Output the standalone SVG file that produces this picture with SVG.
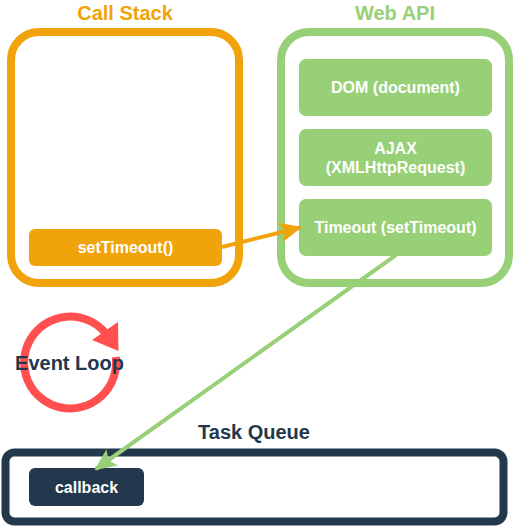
<svg xmlns="http://www.w3.org/2000/svg" width="515" height="526" viewBox="0 0 515 526">
<style>
text{font-family:"Liberation Sans",Arial,sans-serif;font-weight:bold;text-anchor:middle}
.title{font-size:20px}
.lbl{font-size:16px;fill:#ffffff}
.frame{fill:#ffffff;stroke-width:8}
.gbox{fill:#97d077;stroke:none}
</style>
<defs>
<marker id="ao" markerWidth="6" markerHeight="5" refX="5" refY="2.5" orient="auto" markerUnits="strokeWidth">
<path d="M0,0 L5.5,2.5 L0,5 L1.2,2.5 Z" fill="#f0a30a"/>
</marker>
<marker id="ag" markerWidth="6" markerHeight="5" refX="5" refY="2.5" orient="auto" markerUnits="strokeWidth">
<path d="M0,0 L5.5,2.5 L0,5 L1.2,2.5 Z" fill="#97d077"/>
</marker>
</defs>
<rect width="515" height="526" fill="#ffffff"/>

<g id="call-stack">
<text class="title" x="125" y="20" fill="#f0a30a">Call Stack</text>
<rect class="frame" x="11" y="32" width="228" height="251" rx="28" stroke="#f0a30a"/>
</g>
<g id="settimeout">
<rect x="29" y="229" width="193" height="37" rx="6" fill="#f0a30a"/>
<text class="lbl" x="125.5" y="253">setTimeout()</text>
</g>

<g id="web-api">
<text class="title" x="395" y="20" fill="#97d077">Web API</text>
<rect class="frame" x="281" y="32" width="228" height="251" rx="28" stroke="#97d077"/>
</g>
<g id="dom">
<rect class="gbox" x="299" y="59" width="193" height="57" rx="7"/>
<text class="lbl" x="395.5" y="93">DOM (document)</text>
</g>
<g id="ajax">
<rect class="gbox" x="299" y="129" width="193" height="57" rx="7"/>
<text class="lbl" x="395.5" y="154">AJAX</text>
<text class="lbl" x="395.5" y="173">(XMLHttpRequest)</text>
</g>
<g id="timeout">
<rect class="gbox" x="299" y="199" width="193" height="57" rx="7"/>
<text class="lbl" x="395.5" y="233">Timeout (setTimeout)</text>
</g>

<g id="event-loop">
<path d="M 115.8 357 A 46 46 0 1 1 105 332.5" fill="none" stroke="#ff4f4f" stroke-width="8"/>
<polygon points="92,340 118,322 118.5,351" fill="#ff4f4f"/>
<text class="title" x="69.5" y="370" fill="#23374d">Event Loop</text>
</g>

<g id="task-queue">
<text class="title" x="254" y="439" fill="#23374d">Task Queue</text>
<rect class="frame" x="5.5" y="452.5" width="498" height="69" rx="9" stroke="#23374d" stroke-width="7"/>
</g>
<g id="callback">
<rect x="29" y="468" width="115" height="38" rx="6" fill="#23374d"/>
<text class="lbl" x="86.5" y="493">callback</text>
</g>

<g id="connectors" fill="none" stroke-width="4">
<path d="M222,247 L300,227.5" stroke="#f0a30a" marker-end="url(#ao)"/>
<path d="M396,255 L96,469" stroke="#97d077" marker-end="url(#ag)"/>
</g>
</svg>
